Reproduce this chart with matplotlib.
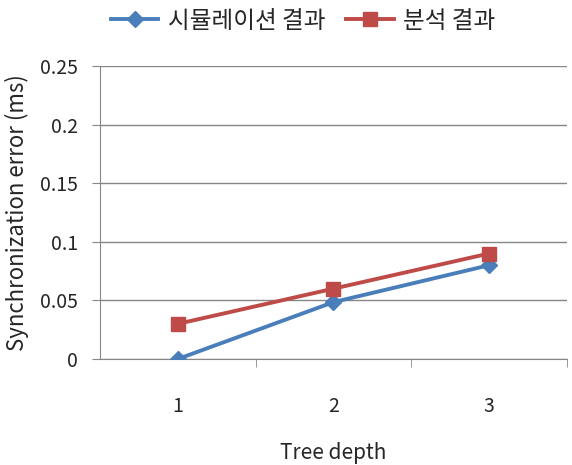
import matplotlib
matplotlib.use('Agg')
import matplotlib.pyplot as plt
import numpy as np

plt.rcParams['font.family'] = ['Noto Sans CJK KR', 'DejaVu Sans']

BLUE = '#4A7EBB'
RED = '#BE4B48'
GRID = '#868686'
TEXT = '#262626'

depth = [1, 2, 3]
sim = [0.0, 0.0485, 0.080]
ana = [0.030, 0.060, 0.090]
yticks = [0, 0.05, 0.1, 0.15, 0.2, 0.25]
ytick_labels = ['0', '0.05', '0.1', '0.15', '0.2', '0.25']

fig = plt.figure(figsize=(5.72, 4.65), dpi=100)
ax = fig.add_axes([0.175, 0.228, 0.816, 0.63])

ax.plot(depth, sim, color=BLUE, lw=2.8, marker='D', ms=8, label='시뮬레이션 결과', zorder=3)
ax.plot(depth, ana, color=RED, lw=2.8, marker='s', ms=10, label='분석 결과', zorder=3)

ax.set_xlim(0.5, 3.5)
ax.set_ylim(0, 0.25)
ax.set_yticks(yticks)
ax.set_yticklabels(ytick_labels)
ax.set_xticks(depth)
ax.set_xticks([1.5, 2.5, 3.5], minor=True)
ax.tick_params(axis='x', which='major', length=0, pad=27, labelsize=14, colors=TEXT)
ax.tick_params(axis='x', which='minor', length=6, color=GRID)
ax.tick_params(axis='y', length=6, labelsize=14, pad=10, colors=TEXT)
ax.tick_params(axis='y', color=GRID)
ax.grid(axis='y', color=GRID, lw=1)
for s in ['top', 'right']:
    ax.spines[s].set_visible(False)
for s in ['left', 'bottom']:
    ax.spines[s].set_color(GRID)

ax.set_xlabel('Tree depth', fontsize=15, labelpad=18, color=TEXT)
ax.set_ylabel('Synchronization error (ms)', fontsize=16, labelpad=8, color=TEXT)

fig.legend(loc='upper center', bbox_to_anchor=(0.53, 1.025), ncol=2, frameon=False,
           fontsize=17, handlelength=2.0, columnspacing=0.9, handletextpad=0.4,
           labelcolor=TEXT)

fig.savefig('out.png', dpi=100)
